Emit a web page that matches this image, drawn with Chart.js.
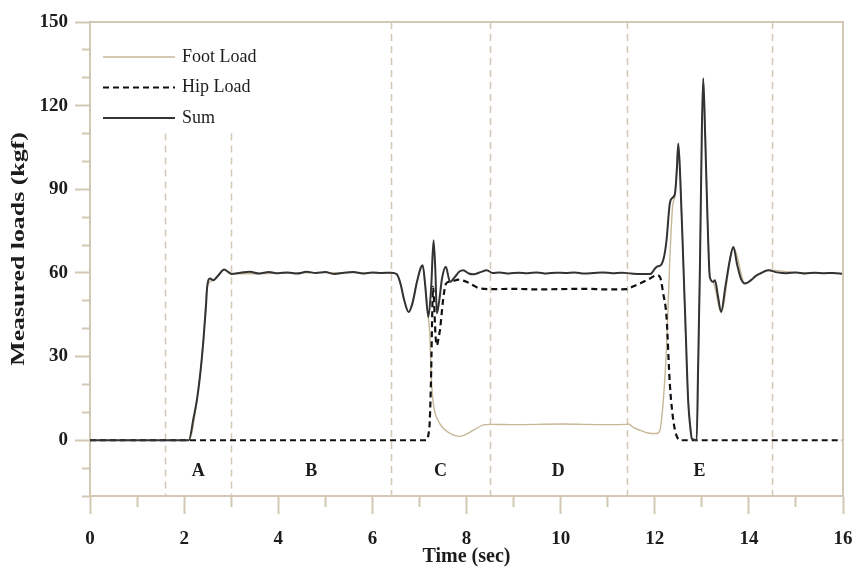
<!DOCTYPE html>
<html>
<head>
<meta charset="utf-8">
<script src="https://cdn.jsdelivr.net/npm/chart.js@4/dist/chart.umd.min.js"></script>
<style>
  html, body { margin: 0; padding: 0; background: #ffffff; }
  #wrap { width: 854px; height: 574px; }
</style>
</head>
<body>
<div id="wrap"><canvas id="c" width="854" height="574"></canvas></div>
<script>
// ---- data ----
const sumTime = [0, 2.1, 2.2, 2.27, 2.35, 2.41, 2.46, 2.49, 2.55, 2.62, 2.73, 2.85, 2.95, 3.01, 3.2, 3.4, 3.6, 3.8, 4.0, 4.2, 4.4, 4.6, 4.8, 5.0, 5.2, 5.4, 5.6, 5.8, 6.0, 6.2, 6.4,
  6.52, 6.6, 6.68, 6.77, 6.85, 6.95, 7.03, 7.07, 7.12, 7.19, 7.25, 7.3, 7.34, 7.37, 7.42, 7.48, 7.56, 7.65, 7.75, 7.85, 7.93, 8.05, 8.15, 8.3, 8.43, 8.55,
  8.7, 8.9, 9.1, 9.3, 9.5, 9.7, 9.9, 10.1, 10.3, 10.5, 10.7, 10.9, 11.1, 11.3, 11.5, 11.7, 11.9,
  12.04, 12.13, 12.2, 12.25, 12.32, 12.38, 12.43, 12.47, 12.5, 12.54, 12.61, 12.66, 12.71, 12.76, 12.79, 12.89, 12.92, 12.96, 13.0, 13.03, 13.07, 13.12, 13.17, 13.24, 13.28, 13.34, 13.41, 13.5, 13.6, 13.67, 13.75, 13.83, 13.92, 14.05, 14.15, 14.24, 14.41,
  14.6, 14.8, 15.0, 15.2, 15.4, 15.6, 15.8, 16.0];
const sumLoad = [0, 0, 8, 14.3, 25, 35.9, 47, 55, 58, 57.4, 59.2, 61.2, 60.2, 59.6, 60.1, 60.4, 59.8, 60.3, 59.9, 60.2, 59.8, 60.4, 60, 60.3, 59.6, 60.1, 60.3, 59.8, 60.2, 60, 60.1,
  59.5, 56, 50, 46, 49, 57, 62, 62.8, 56, 44.2, 55, 71.7, 60, 45.5, 50, 58, 62.2, 56.8, 58.5, 60.5, 61, 59.8, 59.5, 60.3, 61, 60,
  60.2, 59.8, 60.1, 59.9, 60.2, 59.8, 60.1, 60, 60.2, 59.8, 60, 60.2, 59.9, 60.1, 59.8, 59.6, 59.6,
  62.2, 62.8, 66, 71.7, 84.9, 87, 88.5, 97, 106.4, 95, 62.2, 38, 14.3, 4, 0.5, 0, 25, 62, 110, 129.8, 110, 80, 58.6, 56.8, 57.4, 52, 46, 55, 65, 69.3, 63, 58, 56.2, 57.5, 59, 59.8, 61,
  60.2, 59.9, 60.2, 59.8, 60.1, 59.9, 60, 59.7];

const hipTime = [0, 7.15, 7.2, 7.22, 7.25, 7.27, 7.29, 7.31, 7.34, 7.37, 7.41, 7.44, 7.5, 7.56, 7.62, 7.7, 7.83, 7.92, 8.0, 8.15, 8.29, 8.57, 9.0, 9.5, 10.0, 10.5, 11.0, 11.4,
  11.44, 11.6, 11.76, 11.9, 12.04, 12.11, 12.18, 12.25, 12.32, 12.38, 12.43, 12.48, 12.54, 16.0];
const hipLoad = [0, 0, 3, 7, 25, 44, 55, 50, 38, 34, 37, 40, 50, 56, 56.8, 57, 57.6, 57.3, 56.8, 55.5, 54.4, 54.2, 54.3, 54.1, 54.2, 54.3, 54.1, 54.2,
  54.4, 55.6, 56.8, 58, 59.2, 58.6, 52.6, 44.2, 20.3, 9, 3.6, 1, 0, 0];

const footTime = [0, 2.1, 2.27, 2.41, 2.49, 2.62, 2.85, 3.0, 4.0, 5.0, 6.4, 6.52, 6.68, 6.77, 6.95, 7.07, 7.12, 7.19, 7.22, 7.26, 7.3, 7.4, 7.51, 7.7, 7.86, 8.0, 8.15, 8.36, 8.5, 9.0, 10.0, 11.0, 11.4,
  11.44, 11.55, 11.69, 11.85, 12.04, 12.11, 12.18, 12.25, 12.32, 12.38, 12.43, 12.5, 12.54, 12.61, 12.71, 12.79, 12.89, 12.96, 13.03, 13.12, 13.17, 13.24, 13.41, 13.67, 13.92, 14.24, 14.41, 15.0, 16.0];
const footLoad = [0, 0, 14, 36, 55, 57.4, 61, 59.7, 59.9, 60.1, 60, 59.5, 50, 46, 57, 62.5, 56, 44, 38, 20, 12.5, 7, 4.2, 2, 1.4, 2.2, 3.6, 5.5, 5.7, 5.6, 5.8, 5.6, 5.7,
  5.8, 4.5, 3.6, 2.6, 2.4, 3.6, 14, 33, 65, 84, 88, 106, 95, 62, 14, 0.5, 0, 62, 129.8, 80, 58.6, 56.8, 46, 69.3, 56.2, 59.8, 61, 60.2, 59.7];

const seriesNames = ['Foot Load', 'Hip Load', 'Sum'];
const phaseBounds = [1.6, 3.0, 6.4, 8.5, 11.4, 14.5];
const phaseTops = [110, 110, 150, 150, 150, 150];
const phaseLabels = ['A', 'B', 'C', 'D', 'E'];
const phaseLabelY = -11;
const yMin = -20, yMax = 150, yStep = 10, yLabelEvery = 30;
const xMin = 0, xMax = 16, xStep = 1, xLabelEvery = 2;
const yTitle = 'Measured loads (kgf)';
const xTitle = 'Time (sec)';

// ---- styling ----
const FRAME = '#d2c8b4';
const SERIF = '"Liberation Serif", "Times New Roman", serif';
const TEXT = '#1c1c1c';

const toXY = (xs, ys) => xs.map((x, i) => ({ x: x, y: ys[i] }));

const phasePlugin = {
  id: 'phases',
  beforeDatasetsDraw(chart) {
    const { ctx, scales: { x, y } } = chart;
    ctx.save();
    ctx.strokeStyle = FRAME;
    ctx.lineWidth = 1.5;
    ctx.setLineDash([7, 5]);
    phaseBounds.forEach((b, i) => {
      const px = Math.round(x.getPixelForValue(b)) + 0.5;
      ctx.beginPath();
      ctx.moveTo(px, y.getPixelForValue(phaseTops[i]));
      ctx.lineTo(px, y.getPixelForValue(yMin));
      ctx.stroke();
    });
    ctx.setLineDash([]);
    ctx.fillStyle = TEXT;
    ctx.font = 'bold 18px ' + SERIF;
    ctx.textAlign = 'center';
    ctx.textBaseline = 'middle';
    phaseLabels.forEach((lab, i) => {
      const mid = (phaseBounds[i] + phaseBounds[i + 1]) / 2;
      ctx.fillText(lab, x.getPixelForValue(mid), y.getPixelForValue(phaseLabelY));
    });
    ctx.restore();
  },
  afterDraw(chart) {
    const { ctx, chartArea: a } = chart;
    ctx.save();
    // frame top and right
    ctx.strokeStyle = FRAME;
    ctx.lineWidth = 2;
    ctx.beginPath();
    ctx.moveTo(a.left, a.top);
    ctx.lineTo(a.right, a.top);
    ctx.lineTo(a.right, a.bottom);
    ctx.stroke();
    // y-axis title (drawn stretched along its length like the reference)
    ctx.save();
    ctx.translate(19, (a.top + a.bottom) / 2 - 10);
    ctx.rotate(-Math.PI / 2);
    ctx.scale(1.36, 1);
    ctx.font = 'bold 19px ' + SERIF;
    ctx.fillStyle = TEXT;
    ctx.textAlign = 'center';
    ctx.textBaseline = 'middle';
    ctx.fillText(yTitle, 0, 0);
    ctx.restore();
    // legend
    const rows = [2, 1, 0].map(o => chart.data.datasets.find(d => d.order === o));
    ctx.font = '18px ' + SERIF;
    ctx.textAlign = 'left';
    ctx.textBaseline = 'middle';
    rows.forEach((ds, i) => {
      const ly = a.top + 35 + i * 30.5;
      ctx.strokeStyle = ds.borderColor;
      ctx.lineWidth = ds.borderWidth;
      ctx.setLineDash(ds.borderDash || []);
      ctx.beginPath();
      ctx.moveTo(a.left + 13, ly);
      ctx.lineTo(a.left + 85, ly);
      ctx.stroke();
      ctx.setLineDash([]);
      ctx.fillStyle = TEXT;
      ctx.fillText(ds.label, a.left + 92, ly);
    });
    ctx.restore();
  }
};

new Chart(document.getElementById('c'), {
  type: 'line',
  data: {
    datasets: [
      { label: seriesNames[2], data: toXY(sumTime, sumLoad), order: 0,
        borderColor: '#333333', borderWidth: 2, pointRadius: 0, cubicInterpolationMode: 'monotone', fill: false },
      { label: seriesNames[1], data: toXY(hipTime, hipLoad), order: 1,
        borderColor: '#111111', borderWidth: 2.2, borderDash: [6, 4], pointRadius: 0, cubicInterpolationMode: 'monotone', fill: false },
      { label: seriesNames[0], data: toXY(footTime, footLoad), order: 2,
        borderColor: '#c7b797', borderWidth: 1.4, pointRadius: 0, cubicInterpolationMode: 'monotone', fill: false }
    ]
  },
  options: {
    responsive: false,
    animation: false,
    events: [],
    layout: { padding: { top: 22, right: 11, left: 0, bottom: 0 } },
    plugins: { legend: { display: false }, tooltip: { enabled: false } },
    scales: {
      x: {
        type: 'linear', min: xMin, max: xMax,
        afterFit: s => { s.height = 78; s.paddingRight = 0; s.paddingLeft = 0; },
        grid: {
          drawOnChartArea: false, drawTicks: true, tickLength: 18, tickColor: FRAME, tickWidth: 2,
          tickBorderDash: ctx => (ctx.tick && ctx.tick.value % xLabelEvery !== 0) ? [10, 100] : []
        },
        border: { color: FRAME, width: 2 },
        ticks: {
          stepSize: xStep, autoSkip: false, maxRotation: 0, padding: 14,
          color: TEXT, font: { family: SERIF, size: 19, weight: 'bold' },
          callback: v => (v % xLabelEvery === 0 ? v : '')
        },
        title: { display: true, text: xTitle, color: TEXT,
          font: { family: SERIF, size: 20, weight: 'bold' }, padding: { top: 0, bottom: 5 } }
      },
      y: {
        type: 'linear', min: yMin, max: yMax,
        afterFit: s => { s.width = 90; },
        grid: {
          drawOnChartArea: false, drawTicks: true, tickLength: 15, tickColor: FRAME, tickWidth: 2,
          tickBorderDash: ctx => (ctx.tick && ctx.tick.value % yLabelEvery !== 0) ? [0, 7, 8, 100] : []
        },
        border: { color: FRAME, width: 2 },
        ticks: {
          stepSize: yStep, autoSkip: false, padding: 7,
          color: TEXT, font: { family: SERIF, size: 19, weight: 'bold' },
          callback: v => (v % yLabelEvery === 0 ? v : '')
        },
        title: { display: false }
      }
    }
  },
  plugins: [phasePlugin]
});
</script>
</body>
</html>
